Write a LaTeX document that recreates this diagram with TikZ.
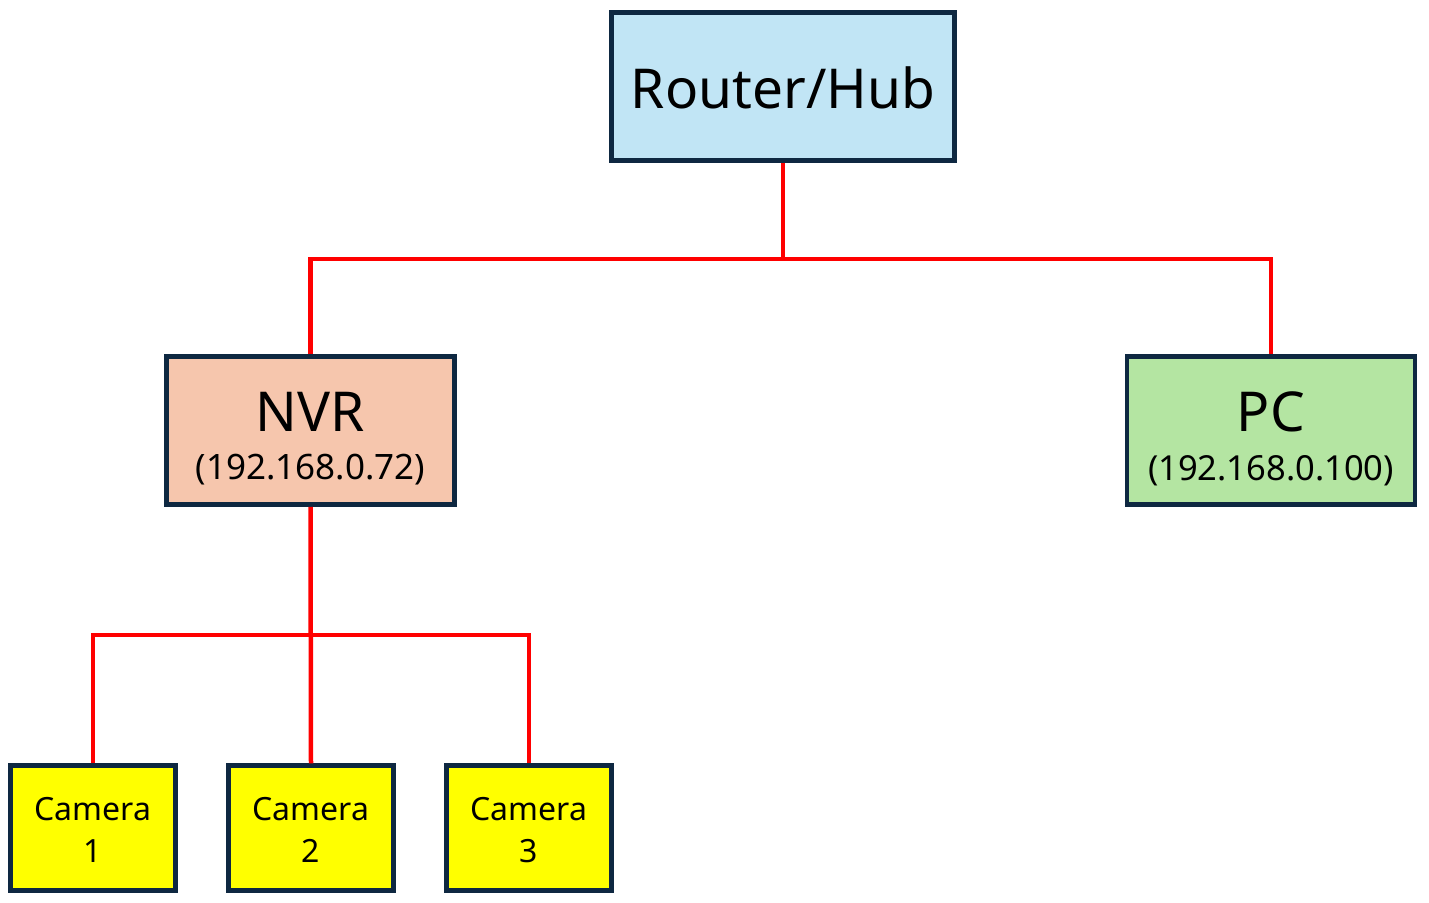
\documentclass[tikz,border=0pt]{standalone}
\usepackage{fontspec}
\setmainfont{Noto Sans}
\definecolor{edge}{HTML}{0E2841}
\definecolor{routerfill}{HTML}{C1E5F5}
\definecolor{nvrfill}{HTML}{F6C6AD}
\definecolor{pcfill}{HTML}{B4E5A2}
\definecolor{camfill}{HTML}{FFFF00}
\definecolor{wire}{HTML}{FF0000}
\begin{document}
\begin{tikzpicture}[x=1pt,y=-1pt,
  box/.style={draw=edge,line width=4.5pt,inner sep=0pt,line join=miter},
  bigbox/.style={box,minimum width=288pt,minimum height=148pt},
  cambox/.style={box,minimum width=165pt,minimum height=125pt,fill=camfill},
  lbl/.style={anchor=base,inner sep=0pt},
  conn/.style={draw=wire,line width=4.5pt,line join=miter}]
\useasboundingbox (0,0) rectangle (1429,902);
% boxes
\node[box,fill=routerfill,minimum width=343pt,minimum height=148pt] (router) at (783,86.5) {};
\node[bigbox,fill=nvrfill] (nvr) at (310.5,430.5) {};
\node[bigbox,fill=pcfill] (pc) at (1271,430.5) {};
\node[cambox] (cam1) at (93,828) {};
\node[cambox] (cam2) at (311,828) {};
\node[cambox] (cam3) at (529,828) {};
% connectors
\coordinate (j1) at (783,259);
\coordinate (j2) at (310.5,635);
\draw[conn] (router.south) -- (j1);
\draw[conn] (nvr.north) |- (j1) -| (pc.north);
\draw[conn] (nvr.south) -- (cam2.north);
\draw[conn] (cam1.north) |- (j2) -| (cam3.north);
% labels
\node[lbl,font=\fontsize{55}{66}\selectfont] (routert) at (783,108) {Router/Hub};
\node[lbl,font=\fontsize{55}{66}\selectfont] (nvrt) at (310.5,431) {NVR};
\node[lbl,font=\fontsize{35}{42}\selectfont] (nvrip) at (310.5,479) {(192.168.0.72)};
\node[lbl,font=\fontsize{55}{66}\selectfont] (pct) at (1271,431) {PC};
\node[lbl,font=\fontsize{34.5}{42}\selectfont] (pcip) at (1271,480) {(192.168.0.100)};
\foreach \i/\x in {1/93,2/311,3/529}{
  \node[lbl,font=\fontsize{32}{38}\selectfont] (camt\i) at (\x,820) {Camera};
  \node[lbl,font=\fontsize{32}{38}\selectfont] (camn\i) at (\x,862) {\i};
}
\end{tikzpicture}
\end{document}
